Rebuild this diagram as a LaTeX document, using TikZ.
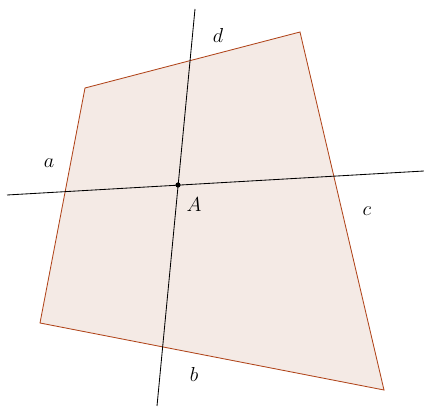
\documentclass[tikz,border=0pt]{standalone}
\usetikzlibrary{calc}
\definecolor{rim}{HTML}{B0441A}
\definecolor{face}{HTML}{F4EAE5}
\tikzset{
  quad/.style={draw=rim,fill=face,line width=0.6pt,line join=miter},
  axis/.style={draw=black,line width=0.6pt},
  lab/.style={font=\Large},
}
\begin{document}
\begin{tikzpicture}[x=0.025cm,y=-0.025cm]
  \useasboundingbox (0,0) rectangle (424,407);

  % the quadrilateral
  \coordinate (q1) at (85,88);
  \coordinate (q2) at (300,32);
  \coordinate (q3) at (384,390);
  \coordinate (q4) at (40,323);
  \path[quad] (q1) -- (q2) -- (q3) -- (q4) -- cycle;

  % the two lines through A
  \coordinate (h1) at (7,195);
  \coordinate (h2) at (424,171);
  \coordinate (v1) at (195,9);
  \coordinate (v2) at (157,406);
  \draw[axis] (h1) -- (h2);
  \draw[axis] (v1) -- (v2);

  \fill (178,185) circle (2.6) coordinate (A);
  \node[lab] (la) at (194,205) {$A$};
  \node[lab] (sa) at (49,163) {$a$};
  \node[lab] (sb) at (194,374) {$b$};
  \node[lab] (sc) at (367,211) {$c$};
  \node[lab] (sd) at (218,35) {$d$};
\end{tikzpicture}
\end{document}
